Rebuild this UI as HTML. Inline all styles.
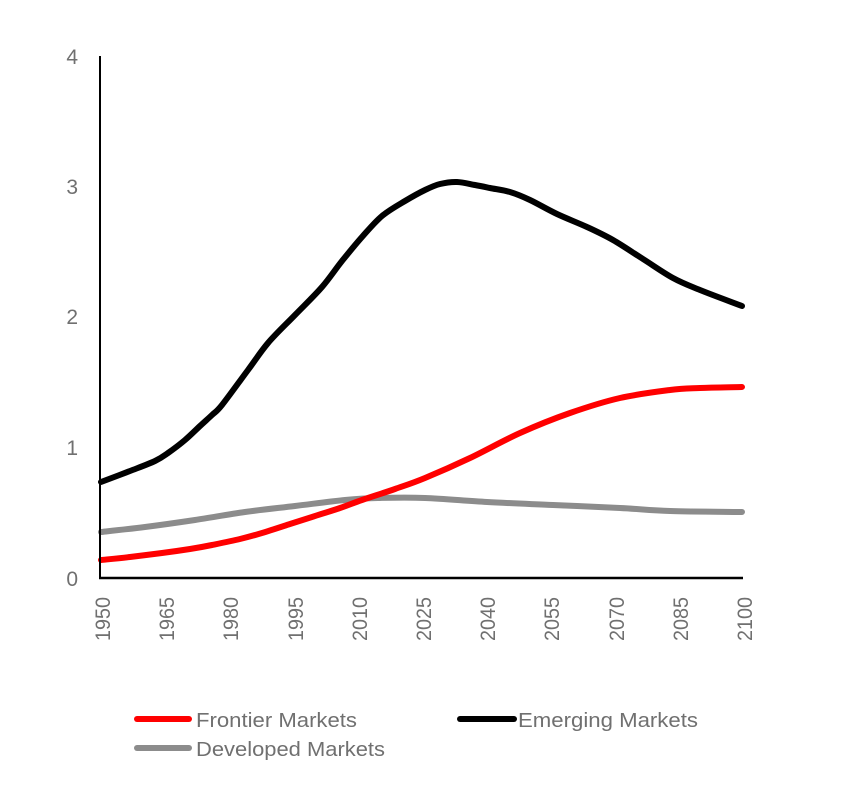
<!DOCTYPE html>
<html>
<head>
<meta charset="utf-8">
<style>
  html, body { margin:0; padding:0; background:#fff; }
  svg { display:block; }
  text { font-family: "Liberation Sans", Arial, sans-serif; fill:#707070; }
</style>
</head>
<body>
<svg width="867" height="801" viewBox="0 0 867 801" xmlns="http://www.w3.org/2000/svg">
  <rect width="867" height="801" fill="#fff"/>

  <!-- Y tick labels -->
  <g font-size="21" text-anchor="end">
    <text x="78" y="64">4</text>
    <text x="78" y="194">3</text>
    <text x="78" y="324">2</text>
    <text x="78" y="455">1</text>
    <text x="78" y="586">0</text>
  </g>

  <!-- X tick labels (rotated) -->
  <g font-size="21" text-anchor="end">
    <text transform="translate(110,597) rotate(-90)" textLength="44" lengthAdjust="spacingAndGlyphs">1950</text>
    <text transform="translate(174,597) rotate(-90)" textLength="44" lengthAdjust="spacingAndGlyphs">1965</text>
    <text transform="translate(238,597) rotate(-90)" textLength="44" lengthAdjust="spacingAndGlyphs">1980</text>
    <text transform="translate(303,597) rotate(-90)" textLength="44" lengthAdjust="spacingAndGlyphs">1995</text>
    <text transform="translate(367,597) rotate(-90)" textLength="44" lengthAdjust="spacingAndGlyphs">2010</text>
    <text transform="translate(431,597) rotate(-90)" textLength="44" lengthAdjust="spacingAndGlyphs">2025</text>
    <text transform="translate(495,597) rotate(-90)" textLength="44" lengthAdjust="spacingAndGlyphs">2040</text>
    <text transform="translate(559,597) rotate(-90)" textLength="44" lengthAdjust="spacingAndGlyphs">2055</text>
    <text transform="translate(624,597) rotate(-90)" textLength="44" lengthAdjust="spacingAndGlyphs">2070</text>
    <text transform="translate(688,597) rotate(-90)" textLength="44" lengthAdjust="spacingAndGlyphs">2085</text>
    <text transform="translate(752,597) rotate(-90)" textLength="44" lengthAdjust="spacingAndGlyphs">2100</text>
  </g>

  <!-- Series -->
  <g fill="none" stroke-linejoin="round" stroke-linecap="round" stroke-width="6">
    <path id="gray" stroke="#8c8c8c" d="M101,532 L742,512"/>
    <path id="red" stroke="#ff0000" d="M101,560 L742,387"/>
    <path id="black" stroke="#000000" d="M101,482 L742,306"/>
  </g>

  <!-- Axes -->
  <line x1="100" y1="56" x2="100" y2="579" stroke="#000" stroke-width="2"/>
  <line x1="99" y1="578" x2="743" y2="578" stroke="#000" stroke-width="2.5"/>

  <!-- Legend -->
  <g stroke-linecap="round" stroke-width="6">
    <line x1="137" y1="719" x2="189" y2="719" stroke="#ff0000"/>
    <line x1="460" y1="719" x2="514" y2="719" stroke="#000"/>
    <line x1="137" y1="748" x2="189" y2="748" stroke="#8c8c8c"/>
  </g>
  <g font-size="20">
    <text x="196" y="727" textLength="161" lengthAdjust="spacingAndGlyphs">Frontier Markets</text>
    <text x="518" y="727" textLength="180" lengthAdjust="spacingAndGlyphs">Emerging Markets</text>
    <text x="196" y="756" textLength="189" lengthAdjust="spacingAndGlyphs">Developed Markets</text>
  </g>
</svg>
<script>
(function(){
  function cr(pts){
    var d = "M" + pts[0][0] + "," + pts[0][1];
    for (var i=0;i<pts.length-1;i++){
      var p0 = pts[i-1]||pts[i], p1=pts[i], p2=pts[i+1], p3=pts[i+2]||pts[i+1];
      var c1x = p1[0]+(p2[0]-p0[0])/6, c1y = p1[1]+(p2[1]-p0[1])/6;
      var c2x = p2[0]-(p3[0]-p1[0])/6, c2y = p2[1]-(p3[1]-p1[1])/6;
      d += " C"+c1x.toFixed(1)+","+c1y.toFixed(1)+" "+c2x.toFixed(1)+","+c2y.toFixed(1)+" "+p2[0]+","+p2[1];
    }
    return d;
  }
  var gray=[[101,532],[145,527],[195,520],[245,512],[295,506],[345,500],[378,498],[425,498],[487,502],[553,505],[620,508],[670,511],[742,512]];
  var red=[[101,560],[130,557],[162,553],[190,549],[212,545],[240,539],[262,533],[290,524],[312,517],[340,508],[362,500],[395,489],[425,478],[470,458],[520,433],[570,413],[620,398],[670,390],[700,388],[742,387]];
  var black=[[101,482],[130,471],[155,461],[168,453],[185,440],[200,426],[212,415],[222,405],[248,370],[268,343],[295,315],[322,287],[342,261],[362,237],[382,216],[405,201],[425,190],[440,184],[457,182],[475,185],[490,188],[510,192],[530,200],[557,214],[587,227],[613,240],[643,259],[673,278],[700,290],[742,306]];
  document.getElementById("gray").setAttribute("d",cr(gray));
  document.getElementById("red").setAttribute("d",cr(red));
  document.getElementById("black").setAttribute("d",cr(black));
})();
</script>
</body>
</html>
